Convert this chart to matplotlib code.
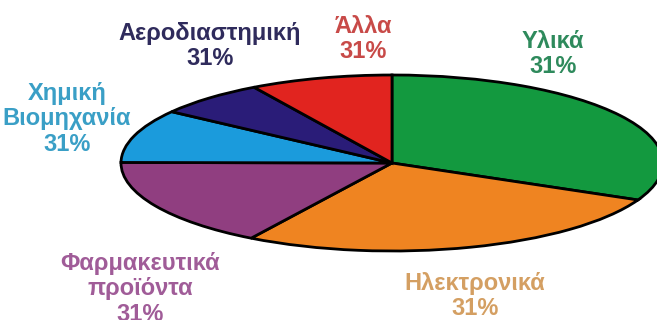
import matplotlib
matplotlib.use('Agg')
import matplotlib.pyplot as plt

# Sector shares (percent) and their captions
sectors = ['Υλικά', 'Ηλεκτρονικά', 'Φαρμακευτικά\nπροϊόντα', 'Χημική\nΒιομηχανία',
           'Αεροδιαστημική', 'Άλλα']
shares = [31.9, 26.8, 16.4, 9.8, 6.6, 8.5]
share_labels = ['31%', '31%', '31%', '31%', '31%', '31%']

wedge_colors = ['#13993f', '#ef8421', '#903e80', '#1b9bdc', '#2a1c78', '#e1241f']
text_colors = ['#2e8a5c', '#d49f62', '#a05c98', '#3a9fc6', '#2f2b5c', '#c84a48']
# caption centres in pixels (x, y from top)
text_pos = [(553, 54), (475, 296), (140, 289), (67, 119), (210, 46), (363, 39)]

W, H = 657, 320
fig = plt.figure(figsize=(W / 100, H / 100), dpi=100)
ax = fig.add_axes([0, 0, 1, 1])

cx, cy, rx, ry = 392, 163, 271, 88
ax.pie(shares, colors=wedge_colors, startangle=90, counterclock=False,
       radius=1, wedgeprops=dict(edgecolor='black', linewidth=2.0))
# squash the pie into an ellipse
ax.set_aspect('auto')
ax.set_xlim(-cx / rx, (W - cx) / rx)
ax.set_ylim((cy - H) / ry, cy / ry)
ax.axis('off')

for name, pct, col, (px, py) in zip(sectors, share_labels, text_colors, text_pos):
    fig.text(px / W, 1 - py / H, name + '\n' + pct, color=col, ha='center', va='center',
             fontsize=17, fontweight='bold', family='Liberation Sans', linespacing=1.12)

fig.savefig('out.png', dpi=100)
